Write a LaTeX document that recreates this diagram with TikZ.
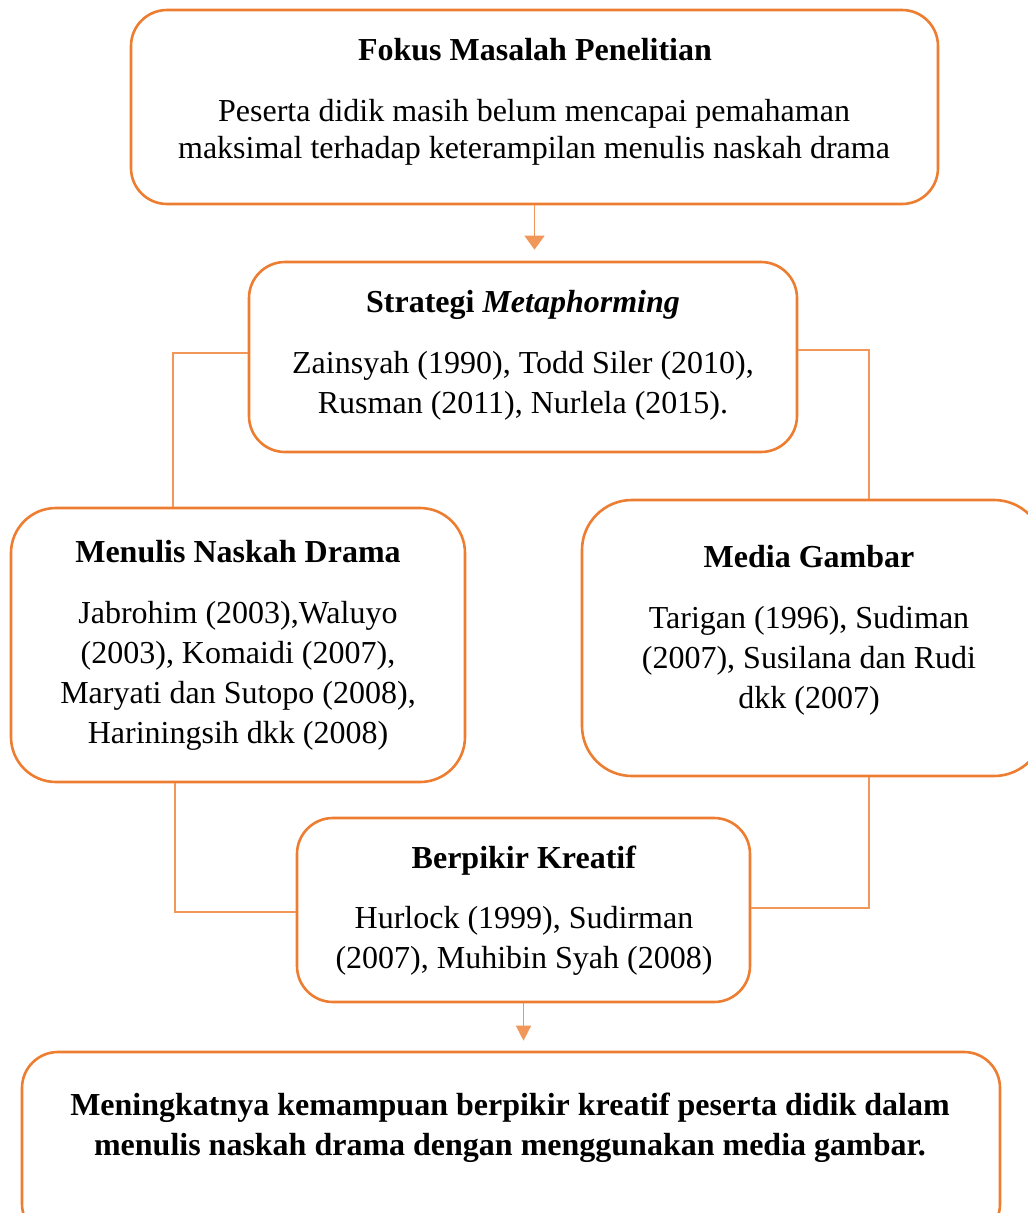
\documentclass[tikz,border=0pt]{standalone}
\usepackage{fontspec}
\setmainfont{Liberation Serif}
\usetikzlibrary{arrows.meta,calc}
\definecolor{orng}{HTML}{ED7D31}
\begin{document}
\begin{tikzpicture}[x=1pt,y=-1pt,
  box/.style={draw=orng,line width=2.6pt,rounded corners=#1,inner sep=0pt,rectangle},
  box/.default=36pt,
  txt/.style={align=center,inner sep=0pt,anchor=base,font=\fontsize{32}{40}\selectfont},
  conn/.style={draw=orng!80,line width=1.3pt},
  arrA/.style={conn,-{Triangle[length=14pt,width=20pt]},shorten >=11pt},
  arrB/.style={conn,-{Triangle[length=15pt,width=15pt]},shorten >=10pt}]
\useasboundingbox (0,0) rectangle (1028,1213);
% boxes
\node[box,minimum width=807pt,minimum height=194pt] (B1) at (534.5,107) {};
\node[box,minimum width=548pt,minimum height=190pt] (B2) at (523,357) {};
\node[box=45pt,minimum width=454pt,minimum height=274pt] (B3) at (238,645) {};
\node[box=50pt,minimum width=462pt,minimum height=276pt] (B4) at (813,638) {};
\node[box,minimum width=453pt,minimum height=184pt] (B5) at (523.5,910) {};
\node[box,minimum width=978pt,minimum height=188pt] (B6) at (511,1146) {};
% texts (anchor = baseline of last line)
\node[txt] (t1) at (535,60) {\textbf{Fokus Masalah Penelitian}};
\node[txt,font=\fontsize{32}{37}\selectfont] (t1b) at (534,158) {Peserta didik masih belum mencapai pemahaman\\maksimal terhadap keterampilan menulis naskah drama};
\node[txt] (t2) at (523,312) {\textbf{Strategi \textit{Metaphorming}}};
\node[txt] (t2b) at (523,413) {Zainsyah (1990), Todd Siler (2010),\\Rusman (2011), Nurlela (2015).};
\node[txt] (t3) at (238,562) {\textbf{Menulis Naskah Drama}};
\node[txt] (t3b) at (238,743) {Jabrohim (2003),Waluyo\\(2003), Komaidi (2007),\\Maryati dan Sutopo (2008),\\Hariningsih dkk (2008)};
\node[txt] (t4) at (809,567) {\textbf{Media Gambar}};
\node[txt] (t4b) at (809,708) {Tarigan (1996), Sudiman\\(2007), Susilana dan Rudi\\dkk (2007)};
\node[txt] (t5) at (524,868) {\textbf{Berpikir Kreatif}};
\node[txt] (t5b) at (524,968) {Hurlock (1999), Sudirman\\(2007), Muhibin Syah (2008)};
\node[txt,font=\bfseries\fontsize{32}{40}\selectfont] (t6) at (510,1155) {Meningkatnya kemampuan berpikir kreatif peserta didik dalam\\menulis naskah drama dengan menggunakan media gambar.};
% connectors
\draw[arrA] (B1.south) -- (B1.south |- B2.north);
\draw[conn] (B2.west |- 0,353) -| (B3.north -| 173,0);
\draw[conn] (B2.east |- 0,350) -| (B4.north -| 869,0);
\draw[conn] (B3.south -| 175,0) |- (B5.west |- 0,912);
\draw[conn] (B4.south -| 869,0) |- (B5.east |- 0,908);
\draw[arrB] (B5.south) -- (B5.south |- B6.north);
\end{tikzpicture}
\end{document}
